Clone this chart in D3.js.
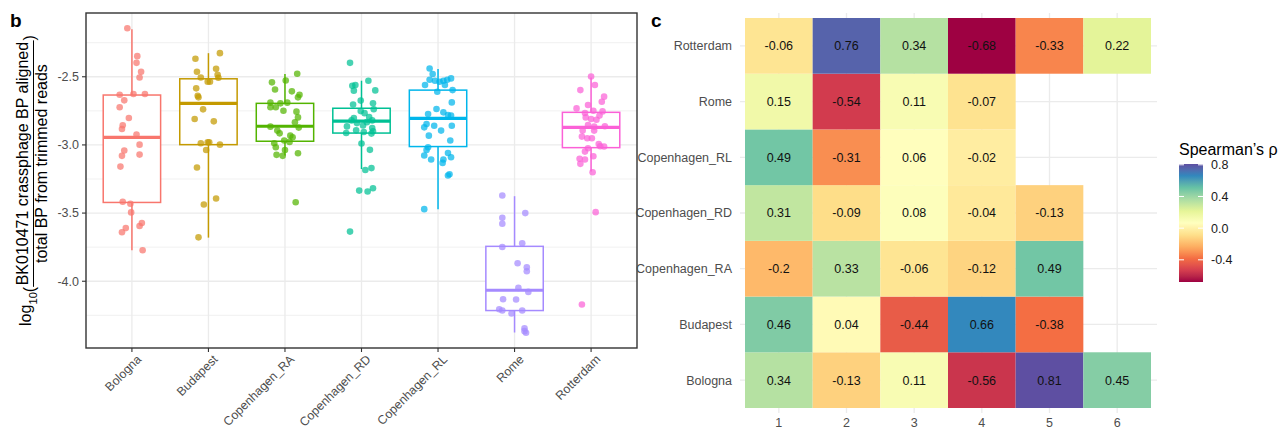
<!DOCTYPE html>
<html>
<head>
<meta charset="utf-8">
<script src="https://cdn.jsdelivr.net/npm/d3@7"></script>
<style>
  body { margin: 0; background: #fff; }
  svg { font-family: "Liberation Sans", Arial, sans-serif; }
</style>
</head>
<body>
<div id="chart"></div>
<script>
// ---- panel b data ----
var sites = ["Bologna", "Budapest", "Copenhagen_RA", "Copenhagen_RD", "Copenhagen_RL", "Rome", "Rotterdam"];
var siteColors = ["#F8766D", "#C49A00", "#53B400", "#00C094", "#00B6EB", "#A58AFF", "#FB61D7"];

var whiskerLow  = [-3.773, -3.680, -3.078, -3.177, -3.471, -4.376, -3.195];
var boxQ1       = [-3.422, -2.998, -2.973, -2.913, -3.012, -4.215, -3.020];
var boxMedian   = [-2.944, -2.695, -2.863, -2.825, -2.805, -4.066, -2.871];
var boxQ3       = [-2.634, -2.515, -2.695, -2.731, -2.598, -3.744, -2.761];
var whiskerHigh = [-2.151, -2.327, -2.480, -2.529, -2.444, -3.376, -2.505];

// [jitter (category units), log10 ratio]
var pointsBologna = [[-0.06,-2.144],[0.07,-2.349],[0.06,-2.398],[0.12,-2.463],[0.10,-2.505],[-0.16,-2.632],[0.02,-2.627],[0.17,-2.627],[-0.10,-2.673],[-0.16,-2.724],[-0.04,-2.802],[-0.12,-2.856],[-0.13,-2.883],[0.06,-2.924],[0.10,-2.998],[-0.10,-3.041],[-0.13,-3.080],[0.10,-3.071],[-0.15,-3.159],[-0.12,-3.417],[-0.02,-3.432],[-0.01,-3.495],[0.13,-3.573],[0.10,-3.595],[-0.08,-3.610],[-0.13,-3.641],[0.14,-3.773]];
var pointsBudapest = [[0.15,-2.327],[-0.17,-2.368],[-0.15,-2.463],[0.10,-2.441],[-0.10,-2.505],[0.12,-2.485],[0.13,-2.507],[0.02,-2.537],[-0.01,-2.537],[-0.16,-2.585],[-0.14,-2.639],[-0.13,-2.651],[-0.07,-2.739],[-0.18,-2.810],[0.07,-2.827],[-0.10,-2.988],[-0.01,-2.980],[0.01,-2.980],[-0.03,-3.037],[0.15,-2.998],[-0.15,-3.166],[0.10,-3.393],[-0.06,-3.437],[-0.13,-3.678]];
var pointsCopRA = [[0.16,-2.478],[0.01,-2.527],[-0.17,-2.541],[-0.13,-2.593],[0.09,-2.607],[0.19,-2.632],[0.17,-2.651],[-0.19,-2.690],[-0.19,-2.724],[-0.12,-2.724],[-0.06,-2.695],[0.03,-2.690],[-0.02,-2.749],[0.15,-2.756],[0.17,-2.798],[0.13,-2.834],[-0.19,-2.866],[-0.10,-2.895],[-0.07,-2.915],[0.18,-2.873],[0.07,-2.932],[0.10,-2.944],[-0.01,-2.968],[0.06,-2.978],[-0.14,-2.988],[-0.12,-3.017],[0.00,-3.037],[-0.11,-3.073],[-0.03,-3.080],[0.17,-3.061],[0.14,-3.420]];
var pointsCopRD = [[-0.15,-2.398],[-0.12,-2.566],[-0.08,-2.561],[-0.10,-2.602],[0.09,-2.529],[0.18,-2.600],[-0.01,-2.675],[-0.11,-2.704],[0.15,-2.694],[0.16,-2.738],[-0.01,-2.752],[0.04,-2.767],[-0.10,-2.803],[-0.13,-2.820],[0.10,-2.796],[0.14,-2.820],[-0.06,-2.840],[0.02,-2.857],[0.07,-2.833],[-0.19,-2.864],[-0.07,-2.893],[0.03,-2.905],[0.14,-2.876],[0.15,-2.900],[-0.20,-2.913],[0.13,-2.917],[0.00,-2.990],[0.11,-3.036],[0.13,-3.170],[0.05,-3.184],[0.15,-3.318],[-0.03,-3.335],[0.08,-3.342],[-0.15,-3.636]];
var pointsCopRL = [[-0.11,-2.439],[-0.07,-2.480],[-0.11,-2.522],[-0.17,-2.561],[-0.04,-2.529],[0.02,-2.537],[0.09,-2.561],[0.12,-2.522],[0.17,-2.512],[0.07,-2.529],[0.19,-2.598],[-0.01,-2.610],[0.18,-2.688],[-0.02,-2.737],[-0.13,-2.773],[0.07,-2.761],[0.13,-2.780],[0.17,-2.785],[-0.15,-2.846],[-0.18,-2.871],[-0.05,-2.859],[0.18,-2.859],[0.04,-2.895],[-0.12,-2.932],[0.16,-2.968],[-0.13,-3.017],[-0.15,-3.037],[0.13,-3.059],[-0.18,-3.078],[-0.09,-3.107],[0.07,-3.107],[0.17,-3.090],[0.06,-3.132],[0.13,-3.224],[0.15,-3.215],[-0.18,-3.471]];
var pointsRome = [[-0.16,-3.371],[0.14,-3.500],[-0.16,-3.534],[-0.16,-3.578],[-0.16,-3.749],[0.10,-3.722],[0.04,-3.868],[0.16,-3.898],[0.16,-3.927],[0.05,-4.049],[0.18,-4.078],[-0.15,-4.132],[0.02,-4.134],[-0.20,-4.205],[-0.16,-4.215],[-0.04,-4.237],[0.10,-4.215],[0.13,-4.346],[0.15,-4.378],[0.13,-4.366]];
var pointsRotterdam = [[0.00,-2.498],[0.05,-2.561],[-0.14,-2.598],[0.17,-2.646],[0.14,-2.683],[-0.04,-2.707],[-0.19,-2.732],[0.03,-2.749],[0.15,-2.754],[-0.08,-2.766],[-0.07,-2.798],[0.11,-2.785],[0.00,-2.810],[0.07,-2.815],[-0.04,-2.854],[0.04,-2.866],[0.18,-2.863],[-0.11,-2.895],[0.04,-2.895],[-0.12,-2.939],[-0.05,-2.951],[0.01,-2.951],[0.10,-2.993],[0.12,-3.010],[0.17,-3.012],[-0.04,-3.024],[-0.08,-3.049],[0.03,-3.083],[-0.15,-3.102],[-0.08,-3.107],[-0.14,-3.139],[0.02,-3.200],[0.06,-3.493],[-0.12,-4.171]];
var pointsBySite = [pointsBologna, pointsBudapest, pointsCopRA, pointsCopRD, pointsCopRL, pointsRome, pointsRotterdam];

var yTicks = [-4.0, -3.5, -3.0, -2.5];
var yMinor = [-4.25, -3.75, -3.25, -2.75, -2.25];

// ---- panel c data ----
var heatRows = ["Bologna", "Budapest", "Copenhagen_RA", "Copenhagen_RD", "Copenhagen_RL", "Rome", "Rotterdam"];
var heatCols = [1, 2, 3, 4, 5, 6];
var rhoBologna      = [0.34, -0.13, 0.11, -0.56, 0.81, 0.45];
var rhoBudapest     = [0.46, 0.04, -0.44, 0.66, -0.38, null];
var rhoCopRA        = [-0.2, 0.33, -0.06, -0.12, 0.49, null];
var rhoCopRD        = [0.31, -0.09, 0.08, -0.04, -0.13, null];
var rhoCopRL        = [0.49, -0.31, 0.06, -0.02, null, null];
var rhoRome         = [0.15, -0.54, 0.11, -0.07, null, null];
var rhoRotterdam    = [-0.06, 0.76, 0.34, -0.68, -0.33, 0.22];
var rhoByRow = [rhoBologna, rhoBudapest, rhoCopRA, rhoCopRD, rhoCopRL, rhoRome, rhoRotterdam];
var legendBreaks = [-0.4, 0.0, 0.4, 0.8];
var spectral = ["#9E0142","#D53E4F","#F46D43","#FDAE61","#FEE08B","#FFFFBF","#E6F598","#ABDDA4","#66C2A5","#3288BD","#5E4FA2"];

var W = 1283, H = 430;
var svg = d3.select("#chart").append("svg").attr("width", W).attr("height", H);

// ================= panel b =================
var pb = {left: 86, right: 637, top: 13, bottom: 348};
var allVals = [];
pointsBySite.forEach(function (p) { p.forEach(function (d) { allVals.push(d[1]); }); });
allVals = allVals.concat(whiskerLow, whiskerHigh);
var ext = d3.extent(allVals), pad = (ext[1] - ext[0]) * 0.05;

var x = d3.scalePoint().domain(sites).range([pb.left, pb.right]).padding(0.6);
var y = d3.scaleLinear().domain([ext[0] - pad, ext[1] + pad]).range([pb.bottom, pb.top]);
var step = x.step(), halfBox = step * 0.375;

var gb = svg.append("g");
gb.append("g").selectAll("line").data(yMinor).enter().append("line")
  .attr("x1", pb.left).attr("x2", pb.right).attr("y1", d => y(d)).attr("y2", d => y(d))
  .attr("stroke", "#EBEBEB").attr("stroke-width", 0.7);
gb.append("g").selectAll("line").data(yTicks).enter().append("line")
  .attr("x1", pb.left).attr("x2", pb.right).attr("y1", d => y(d)).attr("y2", d => y(d))
  .attr("stroke", "#EBEBEB").attr("stroke-width", 1.3);
gb.append("g").selectAll("line").data(sites).enter().append("line")
  .attr("x1", d => x(d)).attr("x2", d => x(d)).attr("y1", pb.top).attr("y2", pb.bottom)
  .attr("stroke", "#EBEBEB").attr("stroke-width", 1.3);

sites.forEach(function (s, i) {
  var cx = x(s), col = siteColors[i];
  var g = gb.append("g");
  g.append("line").attr("x1", cx).attr("x2", cx).attr("y1", y(whiskerHigh[i])).attr("y2", y(boxQ3[i]))
    .attr("stroke", col).attr("stroke-width", 1.5);
  g.append("line").attr("x1", cx).attr("x2", cx).attr("y1", y(boxQ1[i])).attr("y2", y(whiskerLow[i]))
    .attr("stroke", col).attr("stroke-width", 1.5);
  g.append("rect").attr("x", cx - halfBox).attr("width", halfBox * 2)
    .attr("y", y(boxQ3[i])).attr("height", y(boxQ1[i]) - y(boxQ3[i]))
    .attr("fill", "#fff").attr("stroke", col).attr("stroke-width", 1.5);
  g.append("line").attr("x1", cx - halfBox).attr("x2", cx + halfBox)
    .attr("y1", y(boxMedian[i])).attr("y2", y(boxMedian[i]))
    .attr("stroke", col).attr("stroke-width", 3.2);
});

sites.forEach(function (s, i) {
  gb.append("g").selectAll("circle").data(pointsBySite[i]).enter().append("circle")
    .attr("cx", d => x(s) + d[0] * step)
    .attr("cy", d => y(d[1]))
    .attr("r", 3.3)
    .attr("fill", siteColors[i]).attr("fill-opacity", 0.72);
});

gb.append("rect").attr("x", pb.left).attr("y", pb.top)
  .attr("width", pb.right - pb.left).attr("height", pb.bottom - pb.top)
  .attr("fill", "none").attr("stroke", "#333").attr("stroke-width", 1.4);

// axes
gb.append("g").selectAll("line").data(yTicks).enter().append("line")
  .attr("x1", pb.left - 4).attr("x2", pb.left).attr("y1", d => y(d)).attr("y2", d => y(d))
  .attr("stroke", "#333").attr("stroke-width", 1.1);
gb.append("g").selectAll("text").data(yTicks).enter().append("text")
  .attr("x", pb.left - 7).attr("y", d => y(d)).attr("dy", "0.35em")
  .attr("text-anchor", "end").attr("font-size", 12.5).attr("fill", "#4D4D4D")
  .text(d => d.toFixed(1));
gb.append("g").selectAll("line").data(sites).enter().append("line")
  .attr("x1", d => x(d)).attr("x2", d => x(d)).attr("y1", pb.bottom).attr("y2", pb.bottom + 4)
  .attr("stroke", "#333").attr("stroke-width", 1.1);
gb.append("g").selectAll("text").data(sites).enter().append("text")
  .attr("transform", d => "translate(" + (x(d) + 4) + "," + (pb.bottom + 6) + ") rotate(-45)")
  .attr("dy", "0.7em").attr("text-anchor", "end")
  .attr("font-size", 12.3).attr("fill", "#4D4D4D").text(d => d);

// y-axis label: log10( numerator / denominator )
var lab = svg.append("g").attr("transform", "translate(33," + ((pb.top + pb.bottom) / 2) + ") rotate(-90)");
var fs = 16;
var tLog = lab.append("text").attr("font-size", fs).text("log");
var tSub = lab.append("text").attr("font-size", fs * 0.7).text("10");
var tLp = lab.append("text").attr("font-size", fs).text("(");
var tNum = lab.append("text").attr("font-size", fs).attr("text-anchor", "middle").text("BK010471 crassphage BP aligned");
var tDen = lab.append("text").attr("font-size", fs).attr("text-anchor", "middle").text("total BP from trimmed reads");
var tRp = lab.append("text").attr("font-size", fs).text(")");
function wOf(t) { return t.node().getComputedTextLength(); }
var wFrac = Math.max(wOf(tNum), wOf(tDen)) + 3;
var total = wOf(tLog) + wOf(tSub) + wOf(tLp) + wFrac + wOf(tRp);
var cx0 = -total / 2;
tLog.attr("x", cx0).attr("y", -2);
cx0 += wOf(tLog);
tSub.attr("x", cx0).attr("y", 4);
cx0 += wOf(tSub);
tLp.attr("x", cx0).attr("y", 2);
cx0 += wOf(tLp);
tNum.attr("x", cx0 + wFrac / 2).attr("y", -5);
tDen.attr("x", cx0 + wFrac / 2).attr("y", 14);
lab.append("line").attr("x1", cx0).attr("x2", cx0 + wFrac).attr("y1", 0.5).attr("y2", 0.5)
  .attr("stroke", "#000").attr("stroke-width", 1);
cx0 += wFrac;
tRp.attr("x", cx0).attr("y", 2);

svg.append("text").attr("x", 10).attr("y", 27).attr("font-size", 19).attr("font-weight", "bold").text("b");

// ================= panel c =================
var pc = {left: 745, right: 1151, top: 18, bottom: 408};
var hx = d3.scaleBand().domain(heatCols).range([pc.left, pc.right]);
var hy = d3.scaleBand().domain(heatRows.slice().reverse()).range([pc.top, pc.bottom]);

var cells = [];
heatRows.forEach(function (r, i) {
  heatCols.forEach(function (c, j) {
    if (rhoByRow[i][j] !== null) cells.push({row: r, col: c, v: rhoByRow[i][j]});
  });
});
var vExt = d3.extent(cells, d => d.v);
var color = d3.scaleLinear()
  .domain(spectral.map((c, i) => vExt[0] + i * (vExt[1] - vExt[0]) / (spectral.length - 1)))
  .range(spectral).interpolate(d3.interpolateLab);

var gc = svg.append("g");
gc.append("g").selectAll("line").data(heatRows).enter().append("line")
  .attr("x1", pc.left - 5).attr("x2", pc.right + 6)
  .attr("y1", d => hy(d) + hy.bandwidth() / 2).attr("y2", d => hy(d) + hy.bandwidth() / 2)
  .attr("stroke", "#EBEBEB").attr("stroke-width", 1.3);
gc.append("g").selectAll("line").data(heatCols).enter().append("line")
  .attr("x1", d => hx(d) + hx.bandwidth() / 2).attr("x2", d => hx(d) + hx.bandwidth() / 2)
  .attr("y1", pc.top - 5).attr("y2", pc.bottom + 5)
  .attr("stroke", "#EBEBEB").attr("stroke-width", 1.3);

gc.append("g").selectAll("rect").data(cells).enter().append("rect")
  .attr("x", d => hx(d.col)).attr("y", d => hy(d.row))
  .attr("width", hx.bandwidth()).attr("height", hy.bandwidth())
  .attr("fill", d => color(d.v));
gc.append("g").selectAll("text").data(cells).enter().append("text")
  .attr("x", d => hx(d.col) + hx.bandwidth() / 2).attr("y", d => hy(d.row) + hy.bandwidth() / 2)
  .attr("dy", "0.35em").attr("text-anchor", "middle").attr("font-size", 12.5).attr("fill", "#111")
  .text(d => String(d.v));

gc.append("g").selectAll("text").data(heatRows).enter().append("text")
  .attr("x", pc.left - 13).attr("y", d => hy(d) + hy.bandwidth() / 2).attr("dy", "0.35em")
  .attr("text-anchor", "end").attr("font-size", 12.5).attr("fill", "#4D4D4D").text(d => d);
gc.append("g").selectAll("text").data(heatCols).enter().append("text")
  .attr("x", d => hx(d) + hx.bandwidth() / 2).attr("y", pc.bottom + 19)
  .attr("text-anchor", "middle").attr("font-size", 12.5).attr("fill", "#4D4D4D").text(d => d);

svg.append("text").attr("x", 651).attr("y", 27).attr("font-size", 19).attr("font-weight", "bold").text("c");

// legend
var lg = {x: 1179, w: 24, top: 164, bottom: 282};
var ly = d3.scaleLinear().domain(vExt).range([lg.bottom, lg.top]);
var grad = svg.append("defs").append("linearGradient").attr("id", "rhoGrad")
  .attr("x1", 0).attr("y1", 1).attr("x2", 0).attr("y2", 0);
d3.range(0, 1.0001, 0.05).forEach(function (t) {
  grad.append("stop").attr("offset", t).attr("stop-color", color(vExt[0] + t * (vExt[1] - vExt[0])));
});
svg.append("text").attr("x", lg.x).attr("y", 155).attr("font-size", 16).attr("fill", "#000")
  .text("Spearman\u2019s \u03c1");
svg.append("rect").attr("x", lg.x).attr("y", lg.top).attr("width", lg.w).attr("height", lg.bottom - lg.top)
  .attr("fill", "url(#rhoGrad)");
var lt = svg.append("g");
legendBreaks.forEach(function (b) {
  lt.append("line").attr("x1", lg.x).attr("x2", lg.x + 5).attr("y1", ly(b)).attr("y2", ly(b))
    .attr("stroke", "#fff").attr("stroke-width", 1);
  lt.append("line").attr("x1", lg.x + lg.w - 5).attr("x2", lg.x + lg.w).attr("y1", ly(b)).attr("y2", ly(b))
    .attr("stroke", "#fff").attr("stroke-width", 1);
  lt.append("text").attr("x", lg.x + lg.w + 8).attr("y", ly(b)).attr("dy", "0.35em")
    .attr("font-size", 12.5).attr("fill", "#1a1a1a").text(b.toFixed(1));
});
</script>
</body>
</html>
